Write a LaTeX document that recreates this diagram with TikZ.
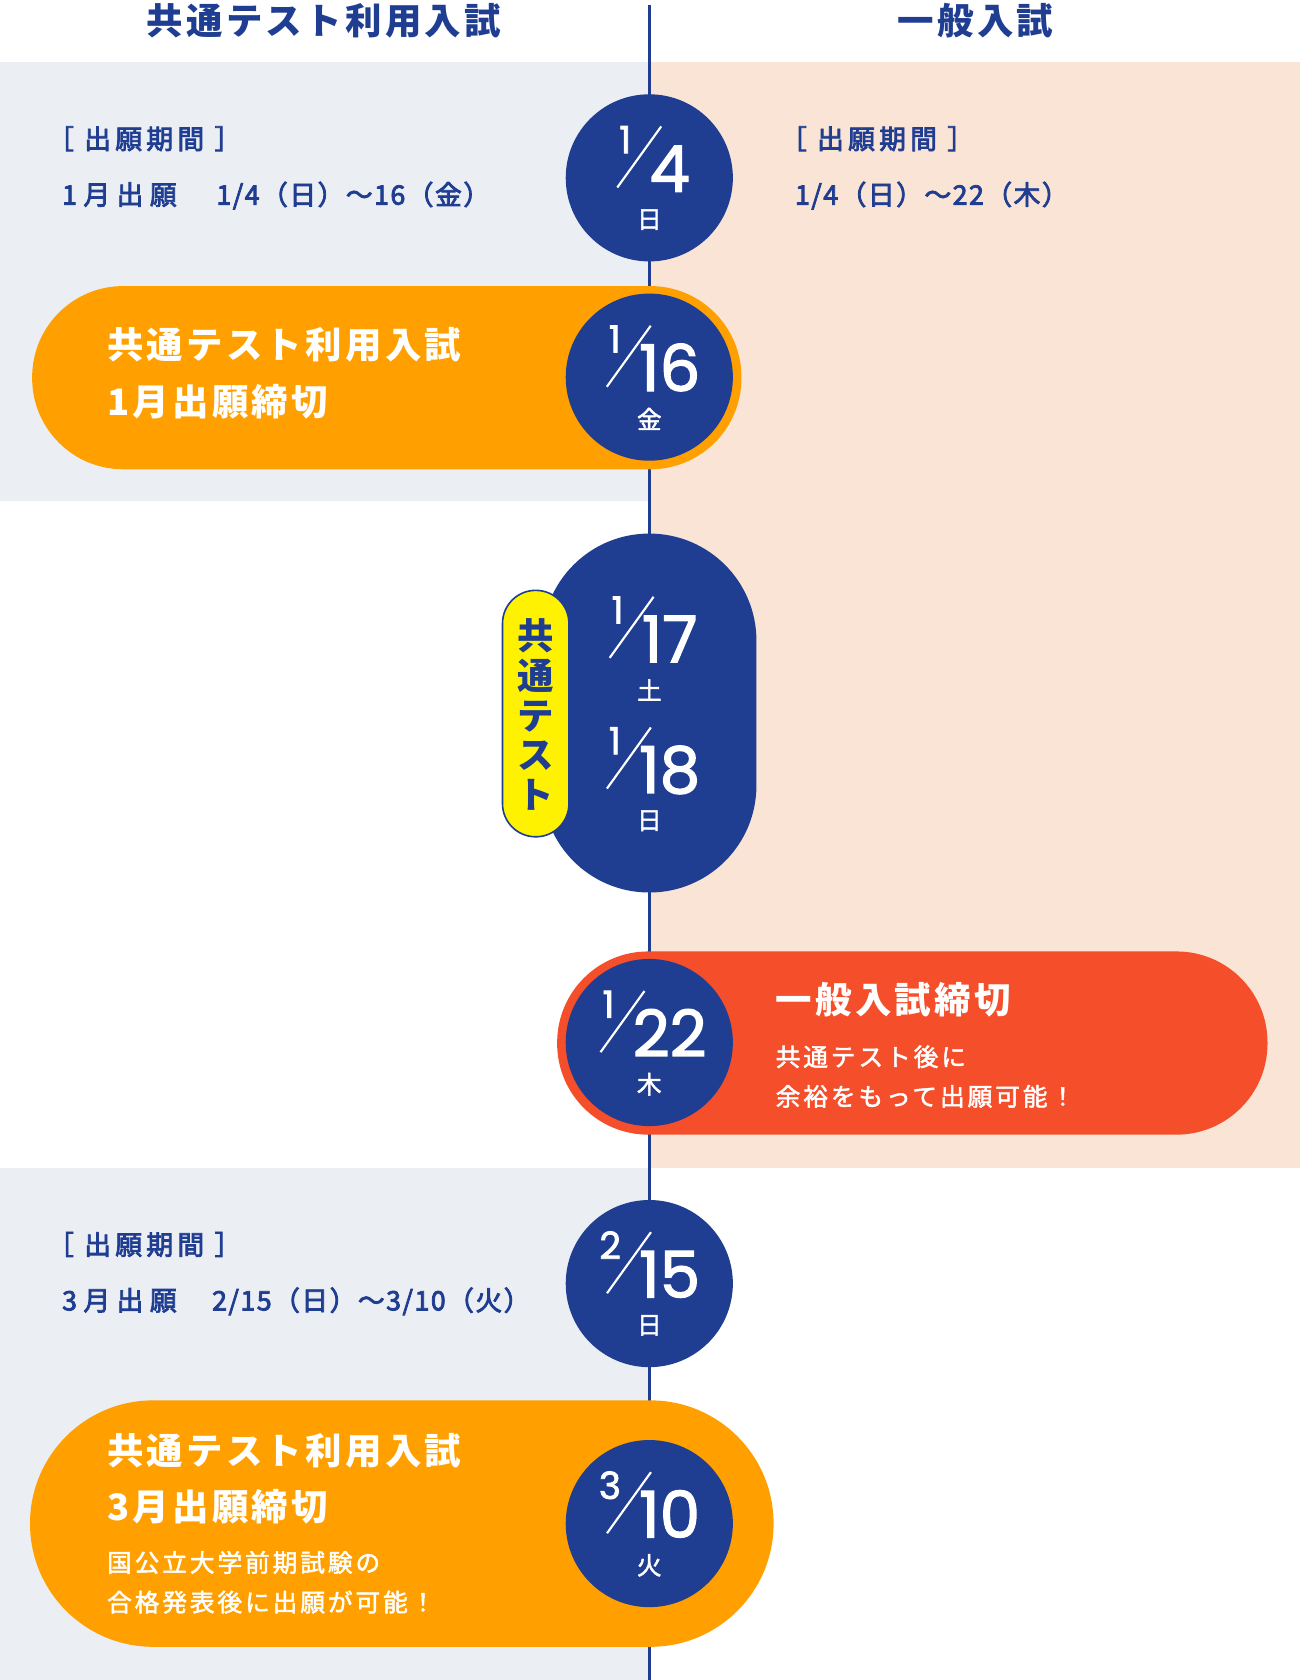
\documentclass[tikz,border=0pt]{standalone}
\usepackage{fontspec}
\setmainfont{Noto Sans CJK JP}
\newfontfamily\digf[FakeBold=2]{Poppins}
\newfontfamily\jpmed[FakeBold=3]{Noto Sans CJK JP}
\newfontfamily\jplight[FakeBold=2]{Noto Sans CJK JP}
\usetikzlibrary{calc}
\definecolor{navy}{HTML}{1F3D91}
\definecolor{orng}{HTML}{FFA000}
\definecolor{redp}{HTML}{F54E2A}
\definecolor{grayb}{HTML}{EBEEF3}
\definecolor{peach}{HTML}{F9E4D5}
\definecolor{yel}{HTML}{FFF200}
\newcommand\datefrac[6]{%
  \node[datebig, anchor=base] (#1d) at (#2+19,#3+13) {#5};
  \draw[slashline] ($(#1d.base west)+(-30,-4)$) -- ($(#1d.base west)+(11,-61)$);
  \node[datesmall, anchor=base east] (#1n) at ($(#1d.base west)+(-17,-36)$) {#4};
  \node[datewd] (#1w) at (#2,#3+39) {#6};
}
\begin{document}
\begin{tikzpicture}[x=1pt,y=-1pt,
  every node/.style={inner sep=0pt, outer sep=0pt},
  headtxt/.style={font=\fontsize{34}{40}\selectfont\bfseries\addfontfeature{LetterSpace=9}, text=navy, anchor=base west},
  periodtxt/.style={font=\jpmed\fontsize{25}{30}\selectfont\addfontfeature{LetterSpace=16}, text=navy, anchor=base west},
  periodA/.style={font=\jpmed\fontsize{25}{30}\selectfont\addfontfeature{LetterSpace=24}, text=navy, anchor=base west},
  periodB/.style={font=\jpmed\fontsize{25}{30}\selectfont\addfontfeature{LetterSpace=5.5}, text=navy, anchor=base west},
  bigwhite/.style={font=\fontsize{34}{40}\selectfont\bfseries\addfontfeature{LetterSpace=9}, text=white, anchor=base west},
  smallwhite/.style={font=\jplight\fontsize{23}{28}\selectfont\addfontfeature{LetterSpace=12}, text=white, anchor=base west},
  datebig/.style={font=\digf\fontsize{60}{60}\selectfont, text=white},
  datesmall/.style={font=\digf\fontsize{35}{35}\selectfont, text=white},
  datewd/.style={font=\jplight\fontsize{23}{23}\selectfont, text=white},
  slashline/.style={draw=white, line width=2pt},
  circ/.style={fill=navy},
]
\useasboundingbox (0,0) rectangle (1213,1568);
\fill[white] (0,0) rectangle (1213,1568);
% bands
\fill[grayb] (0,58) rectangle (606,468);
\fill[peach] (606,58) rectangle (1213,1090);
\fill[grayb] (0,1090) rectangle (606,1568);
% timeline
\coordinate (ltop) at (606,5);
\coordinate (lbot) at (606,1568);
\draw[navy, line width=3pt] (ltop) -- (lbot);
% headings
\node[headtxt] (h1) at (137,32) {共通テスト利用入試};
\node[headtxt] (h2) at (838,32) {一般入試};
% period texts
\node[periodtxt] (p1a) at (44,139) {［ 出願期間 ］};
\node[periodA] (p1b) at (58,191) {1月出願};
\node[periodB] (p1c) at (202,191) {1/4（日）～16（金）};
\node[periodtxt] (p2a) at (728,139) {［ 出願期間 ］};
\node[periodB] (p2b) at (742,191) {1/4（日）～22（木）};
\node[periodtxt] (p3a) at (44,1171) {［ 出願期間 ］};
\node[periodA] (p3b) at (58,1223) {3月出願};
\node[periodB] (p3c) at (198,1223) {2/15（日）～3/10（火）};
% pills
\fill[orng, rounded corners=85pt] (30,267) rectangle (692,438);
\fill[navy, rounded corners=99.9pt] (506,498) rectangle (706,833);
\draw[navy, line width=1.5pt, fill=yel, rounded corners=30.9pt] (469,551) rectangle (531,781);
\fill[redp, rounded corners=85pt] (520,888) rectangle (1183,1059);
\fill[orng, rounded corners=114.9pt] (28,1307) rectangle (722,1537);
% circles
\fill[circ] (606,166) circle (78);
\fill[circ] (606,352) circle (78);
\fill[circ] (606,973) circle (78);
\fill[circ] (606,1198) circle (78);
\fill[circ] (606,1422) circle (78);
% dates
\datefrac{da}{606}{166}{1}{4}{日}
\datefrac{db}{606}{352}{1}{16}{金}
\datefrac{dc}{606}{605}{1}{17}{土}
\datefrac{dd}{606}{727}{1}{18}{日}
\datefrac{de}{606}{973}{1}{22}{木}
\datefrac{df}{606}{1198}{2}{15}{日}
\datefrac{dg}{606}{1422}{3}{10}{火}
% test label
\node[font=\fontsize{34}{37}\selectfont\bfseries, text=navy, align=center] (testtxt) at (500,667) {共\\通\\テ\\ス\\ト};
% pill texts
\node[bigwhite] (o1a) at (100,335) {共通テスト利用入試};
\node[bigwhite] (o1b) at (100,388) {1月出願締切};
\node[bigwhite] (r1a) at (724,946) {一般入試締切};
\node[smallwhite] (r1b) at (724,995) {共通テスト後に};
\node[smallwhite] (r1c) at (724,1032) {余裕をもって出願可能！};
\node[bigwhite] (o2a) at (100,1367) {共通テスト利用入試};
\node[bigwhite] (o2b) at (100,1419) {3月出願締切};
\node[smallwhite] (o2c) at (100,1467) {国公立大学前期試験の};
\node[smallwhite] (o2d) at (100,1504) {合格発表後に出願が可能！};
\end{tikzpicture}
\end{document}
